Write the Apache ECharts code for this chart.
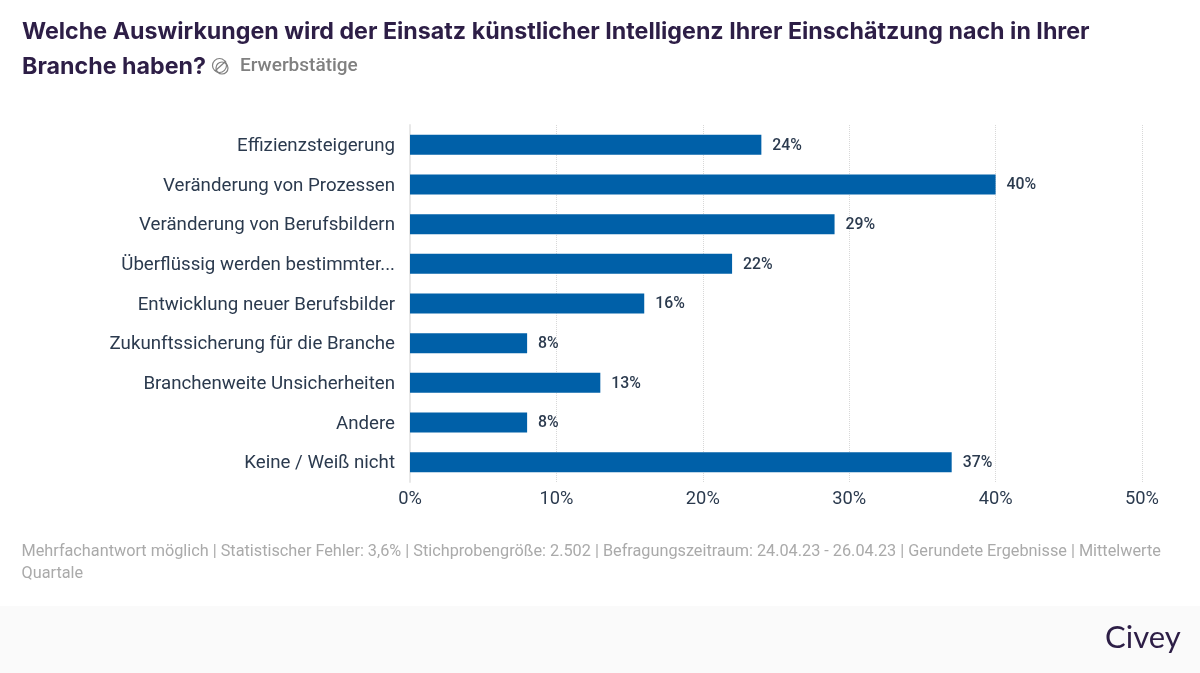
<!DOCTYPE html>
<html>
<head>
<meta charset="utf-8">
<style>
html, body { margin: 0; padding: 0; background: #fff; }
#chart { width: 1200px; height: 673px; }
</style>
<script src="https://cdn.jsdelivr.net/npm/echarts@6/dist/echarts.min.js"></script>
</head>
<body>
<div id="chart"></div>
<script>
var categories = ['Effizienzsteigerung', 'Veränderung von Prozessen', 'Veränderung von Berufsbildern', 'Überflüssig werden bestimmter...', 'Entwicklung neuer Berufsbilder', 'Zukunftssicherung für die Branche', 'Branchenweite Unsicherheiten', 'Andere', 'Keine / Weiß nicht'];
var values = [24, 40, 29, 22, 16, 8, 13, 8, 37];
var titleLine1 = 'Welche Auswirkungen wird der Einsatz künstlicher Intelligenz Ihrer Einschätzung nach in Ihrer';
var titleLine2 = 'Branche haben?';
var subgroup = 'Erwerbstätige';
var footnote1 = 'Mehrfachantwort möglich | Statistischer Fehler: 3,6% | Stichprobengröße: 2.502 | Befragungszeitraum: 24.04.23 - 26.04.23 | Gerundete Ergebnisse | Mittelwerte';
var footnote2 = 'Quartale';
var brand = 'Civey';

var chart = echarts.init(document.getElementById('chart'));
chart.setOption({
    animation: false,
    backgroundColor: '#ffffff',
    textStyle: { fontFamily: 'Roboto' },
    grid: { left: 410, right: 58, top: 125, height: 357 },
    xAxis: {
        type: 'value',
        min: 0,
        max: 50,
        interval: 10,
        axisLine: { show: false },
        axisTick: { show: false },
        axisLabel: { formatter: '{value}%', color: '#2b3a4e', fontSize: 18.3, margin: 8 },
        splitLine: { show: true, lineStyle: { color: '#d8d8d8', type: 'dotted', width: 1 } }
    },
    yAxis: {
        type: 'category',
        inverse: true,
        data: categories,
        axisLine: { show: true, lineStyle: { color: '#e8e8e8', width: 2 } },
        axisTick: { show: false },
        axisLabel: {
            margin: 15,
            formatter: function (name) { return '{cat|' + name + '}'; },
            rich: { cat: { color: '#2b3a4e', fontSize: 18.7, fontFamily: 'Roboto', padding: [3, 0, 0, 0] } }
        }
    },
    series: [{
        type: 'bar',
        data: values,
        barWidth: 20,
        itemStyle: { color: '#0060a8' },
        label: {
            show: true,
            position: 'right',
            distance: 11,
            offset: [0, 1],
            formatter: '{c}%',
            color: '#2b3a4e',
            fontSize: 15.8,
            fontWeight: 500
        }
    }],
    graphic: [
        { type: 'rect', z: -1, shape: { x: 0, y: 606, width: 1200, height: 67 }, style: { fill: '#fafafa' } },
        { type: 'text', x: 22, y: 32, style: { text: titleLine1, fill: '#2d1e46', font: '700 23.25px Inter', textVerticalAlign: 'middle' } },
        { type: 'text', x: 22, y: 67, style: { text: titleLine2, fill: '#2d1e46', font: '700 23.25px Inter', textVerticalAlign: 'middle' } },
        { type: 'circle', shape: { cx: 219.5, cy: 65.5, r: 7 }, style: { fill: 'none', stroke: '#808080', lineWidth: 1.2 } },
        { type: 'circle', shape: { cx: 222, cy: 68, r: 6 }, style: { fill: 'none', stroke: '#808080', lineWidth: 1.2 } },
        { type: 'line', shape: { x1: 215, y1: 71, x2: 226, y2: 61 }, style: { stroke: '#808080', lineWidth: 1.2 } },
        { type: 'text', x: 240, y: 66, style: { text: subgroup, fill: '#808080', font: '500 19px Roboto', textVerticalAlign: 'middle' } },
        { type: 'text', x: 21.5, y: 551.5, style: { text: footnote1, fill: '#aaaaaa', font: '400 16.26px Roboto', textVerticalAlign: 'middle' } },
        { type: 'text', x: 21.5, y: 573.5, style: { text: footnote2, fill: '#aaaaaa', font: '400 16.26px Roboto', textVerticalAlign: 'middle' } },
        { type: 'text', x: 1105, y: 638, style: { text: brand, fill: '#2d1e46', font: '400 31px Lato', textVerticalAlign: 'middle' } }
    ]
});
</script>
</body>
</html>
